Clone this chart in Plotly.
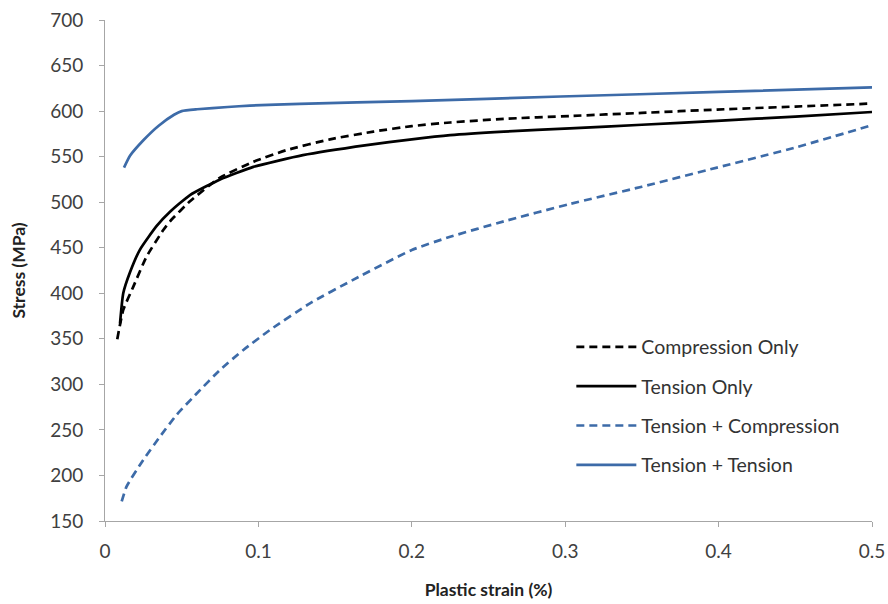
import plotly.graph_objects as go

# Compression Only (black dashed)
comp_x = [0.008, 0.0119, 0.0184, 0.027, 0.038, 0.0424, 0.0554, 0.075, 0.0967, 0.118, 0.1467, 0.175, 0.2, 0.225, 0.26, 0.303, 0.35, 0.399, 0.45, 0.5]
comp_y = [349.6, 381.7, 407, 440, 469.4, 479, 501, 527, 544.3, 557, 569, 577.5, 583.5, 587.5, 591.5, 594.6, 598, 601.7, 605, 608.3]

# Tension Only (black solid)
ten_x = [0.0098, 0.0119, 0.0163, 0.0228, 0.0337, 0.0424, 0.0554, 0.075, 0.0967, 0.129, 0.1706, 0.2, 0.225, 0.26, 0.303, 0.35, 0.399, 0.45, 0.5]
ten_y = [367, 400, 423, 448, 474, 489.5, 507.8, 525, 538.8, 551.6, 562.6, 569, 573.6, 577.5, 581, 585, 589.3, 594, 599]

# Tension + Compression (blue dashed)
tc_x = [0.0109, 0.0141, 0.025, 0.0359, 0.0467, 0.0598, 0.075, 0.0902, 0.1076, 0.1336, 0.162, 0.2, 0.225, 0.26, 0.303, 0.35, 0.399, 0.45, 0.5]
tc_y = [171.5, 188, 217.2, 242.8, 266.6, 290, 315.9, 337.8, 359.8, 389, 415, 447.5, 462, 479, 498, 517, 538, 560, 584.5]

# Tension + Tension (blue solid)
tt_x = [0.0124, 0.0163, 0.025, 0.035, 0.045, 0.05, 0.06, 0.08, 0.0945, 0.127, 0.2, 0.297, 0.4, 0.5]
tt_y = [538, 551, 568, 584, 596, 600, 602, 604.5, 606, 608, 611, 616, 621, 626]

x_ticks = [0, 0.1, 0.2, 0.3, 0.4, 0.5]
x_ticklabels = ["0", "0.1", "0.2", "0.3", "0.4", "0.5"]
y_ticks = [150, 200, 250, 300, 350, 400, 450, 500, 550, 600, 650, 700]

BLUE = "#3D6BA8"
FONT = "Lato, 'Open Sans', sans-serif"

fig = go.Figure()
series = [
    ("Compression Only", comp_x, comp_y, "black", "8px,5px", "g1"),
    ("Tension Only", ten_x, ten_y, "black", "solid", "g2"),
    ("Tension + Compression", tc_x, tc_y, BLUE, "8px,5px", "g3"),
    ("Tension + Tension", tt_x, tt_y, BLUE, "solid", "g4"),
]
for name, xs, ys, col, dash, grp in series:
    fig.add_trace(go.Scatter(
        x=xs, y=ys, mode="lines", name=name, legendgroup=grp,
        line=dict(color=col, width=2.7, dash=dash, shape="spline", smoothing=0.5),
    ))

fig.update_layout(
    width=888, height=604,
    paper_bgcolor="white", plot_bgcolor="white",
    margin=dict(l=105, r=16, t=20, b=83),
    font=dict(family=FONT, size=19, color="#404040"),
    showlegend=True,
    legend=dict(
        x=0.608, y=0.386, xanchor="left", yanchor="top",
        bgcolor="rgba(0,0,0,0)", font=dict(size=19.5, color="#333333"),
        tracegroupgap=11, itemwidth=60,
    ),
    xaxis=dict(
        range=[0, 0.5], tickvals=x_ticks, ticktext=x_ticklabels, automargin=False,
        showgrid=False, zeroline=False, showline=True, linecolor="#A6A6A6", linewidth=1,
        ticks="outside", ticklen=5, tickcolor="#A6A6A6", ticklabelstandoff=8,
        title=dict(text="<b>Plastic strain (%)</b>", font=dict(size=17.5, color="#222222"), standoff=22),
    ),
    yaxis=dict(
        range=[150, 700], tickvals=y_ticks, automargin=False,
        showgrid=False, zeroline=False, showline=True, linecolor="#A6A6A6", linewidth=1,
        ticks="outside", ticklen=5, tickcolor="#A6A6A6", ticklabelstandoff=12,
        title=dict(text="<b>Stress (MPa)</b>", font=dict(size=17.5, color="#222222"), standoff=20),
    ),
)

fig.write_html("out.html")
